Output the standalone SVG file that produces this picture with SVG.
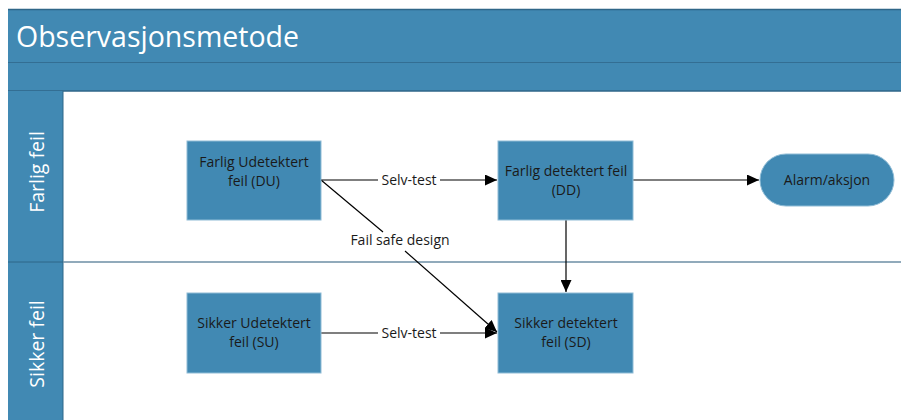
<svg xmlns="http://www.w3.org/2000/svg" width="901" height="420" viewBox="0 0 901 420">
  <style>
    .band { fill: #4189b3; }
    .edge { stroke: #2f6688; stroke-width: 1.5; }
    .node rect { fill: #4189b3; stroke: #8fbcd6; stroke-width: 1; }
    .ntext { font-family: "Open Sans", "Noto Sans", sans-serif; font-size: 14px; fill: #1a1a1a; text-anchor: middle; }
    .lane { font-family: "Open Sans", "Noto Sans", sans-serif; font-size: 19.5px; fill: #ffffff; text-anchor: middle; }
    .title { font-family: "Open Sans", "Noto Sans", sans-serif; font-size: 28.5px; fill: #ffffff; }
    .conn { stroke: #000000; stroke-width: 1.2; fill: none; }
    .clabel { font-family: "Open Sans", "Noto Sans", sans-serif; font-size: 14px; fill: #1a1a1a; text-anchor: middle; }
  </style>
  <defs>
    <marker id="arrow" viewBox="0 0 12 11" refX="12" refY="5.5" markerWidth="12" markerHeight="11" markerUnits="userSpaceOnUse" orient="auto">
      <path d="M0,0 L12,5.5 L0,11 z" fill="#000000"/>
    </marker>
  </defs>

  <rect width="901" height="420" fill="#ffffff"/>

  <!-- pool header -->
  <g id="pool">
    <rect class="band" x="8" y="9" width="893" height="54"/>
    <line class="edge" x1="8" y1="9.5" x2="901" y2="9.5"/>
    <line class="edge" x1="8" y1="63" x2="901" y2="63"/>
    <text class="title" x="16" y="47">Observasjonsmetode</text>
    <rect class="band" x="8" y="63" width="893" height="28"/>
    <line class="edge" x1="8" y1="91" x2="901" y2="91"/>
  </g>

  <!-- lanes -->
  <g id="lane-farlig">
    <rect class="band" x="8" y="91" width="55" height="171"/>
    <line x1="63" y1="91" x2="63" y2="262" stroke="#2f6688" stroke-width="1"/>
    <text class="lane" transform="translate(44,172) rotate(-90)">Farlig feil</text>
  </g>
  <g id="lane-sikker">
    <rect class="band" x="8" y="262" width="55" height="158"/>
    <line x1="63" y1="262" x2="63" y2="420" stroke="#2f6688" stroke-width="1"/>
    <line x1="8" y1="262" x2="63" y2="262" stroke="#2f6688" stroke-width="1"/>
    <line x1="63" y1="262" x2="901" y2="262" stroke="#6d8ea4" stroke-width="1.5"/>
    <text class="lane" transform="translate(44,344) rotate(-90)">Sikker feil</text>
  </g>

  <!-- connectors -->
  <g id="connectors">
    <line class="conn" x1="321" y1="180" x2="378" y2="180"/>
    <line class="conn" x1="440" y1="180" x2="497" y2="180" marker-end="url(#arrow)"/>
    <text class="clabel" x="409" y="185">Selv-test</text>

    <line class="conn" x1="633" y1="180" x2="759" y2="180" marker-end="url(#arrow)"/>

    <line class="conn" x1="566" y1="220" x2="566" y2="292" marker-end="url(#arrow)"/>

    <line class="conn" x1="321" y1="180" x2="383" y2="232"/>
    <line class="conn" x1="405" y1="251" x2="497" y2="332" marker-end="url(#arrow)"/>
    <text class="clabel" x="400" y="245">Fail safe design</text>

    <line class="conn" x1="321" y1="333" x2="378" y2="333"/>
    <line class="conn" x1="440" y1="333" x2="497" y2="333" marker-end="url(#arrow)"/>
    <text class="clabel" x="409" y="338">Selv-test</text>
  </g>

  <!-- nodes -->
  <g id="du" class="node">
    <rect x="187" y="141" width="134" height="79"/>
    <text class="ntext" x="254" y="167">Farlig Udetektert</text>
    <text class="ntext" x="254" y="186">feil (DU)</text>
  </g>
  <g id="dd" class="node">
    <rect x="498" y="141" width="135" height="79"/>
    <text class="ntext" x="566" y="176">Farlig detektert feil</text>
    <text class="ntext" x="566" y="195">(DD)</text>
  </g>
  <g id="alarm" class="node">
    <rect x="760" y="154" width="134" height="52" rx="26" ry="26"/>
    <text class="ntext" x="827" y="185">Alarm/aksjon</text>
  </g>
  <g id="su" class="node">
    <rect x="187" y="293" width="134" height="80"/>
    <text class="ntext" x="254" y="328">Sikker Udetektert</text>
    <text class="ntext" x="254" y="347">feil (SU)</text>
  </g>
  <g id="sd" class="node">
    <rect x="498" y="293" width="135" height="80"/>
    <text class="ntext" x="566" y="328">Sikker detektert</text>
    <text class="ntext" x="566" y="347">feil (SD)</text>
  </g>
</svg>
